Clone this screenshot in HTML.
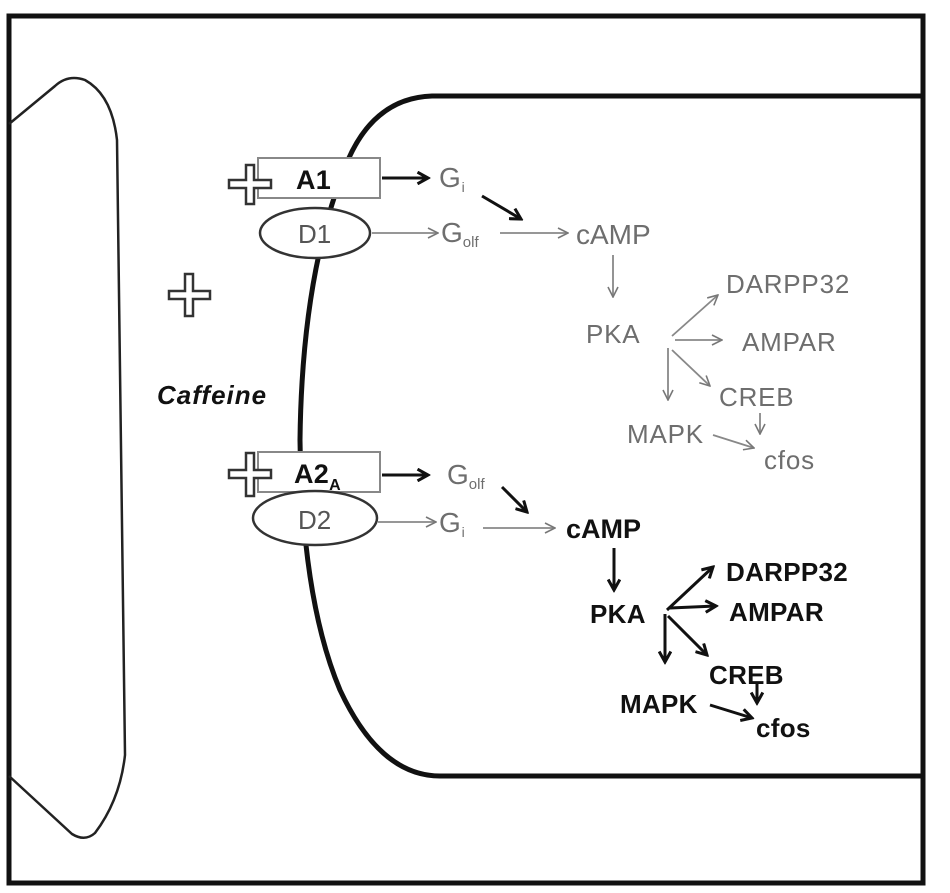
<!DOCTYPE html>
<html><head><meta charset="utf-8"><style>
body{margin:0;background:#fff}
svg{display:block}
text{font-family:"Liberation Sans",sans-serif}
.g{fill:#6e6e6e;font-size:26px;letter-spacing:0.8px}
.b{fill:#111;font-size:26px;font-weight:bold;letter-spacing:0.3px}
</style></head><body>
<svg width="950" height="893" viewBox="0 0 950 893" xmlns="http://www.w3.org/2000/svg">
<defs>
<marker id="ag" viewBox="0 0 12 12" refX="11" refY="6" markerWidth="12" markerHeight="12" markerUnits="userSpaceOnUse" orient="auto"><path d="M1,1 L11,6 L1,11" fill="none" stroke="#777" stroke-width="1.6"/></marker>
<marker id="ab" viewBox="0 0 12 12" refX="10" refY="6" markerWidth="14" markerHeight="14" markerUnits="userSpaceOnUse" orient="auto"><path d="M1,1 L10,6 L1,11" fill="none" stroke="#111" stroke-width="2.6"/></marker>
</defs>
<!-- frame -->
<rect x="9" y="16" width="914" height="867" fill="none" stroke="#111" stroke-width="5"/>
<!-- left cell -->
<path d="M9,124 L55,86 Q68,74 85,80 Q112,95 117,140 L125,755 Q120,800 95,833 Q85,842 72,834 L9,776" fill="none" stroke="#222" stroke-width="2.5"/>
<!-- right cell -->
<path d="M922,96 L432,96 Q375,98 348,160 Q302,270 300,440 Q302,600 340,690 Q380,776 440,776 L922,776" fill="none" stroke="#111" stroke-width="5"/>
<!-- receptors -->
<rect x="258" y="158" width="122" height="40" fill="#fff" stroke="#888" stroke-width="2"/>
<text x="296" y="189" class="b" style="font-size:27px">A1</text>
<ellipse cx="315" cy="233" rx="55" ry="25" fill="#fff" stroke="#333" stroke-width="2.5"/>
<text x="298" y="243" class="g" style="fill:#555;letter-spacing:0">D1</text>
<rect x="258" y="452" width="122" height="40" fill="#fff" stroke="#888" stroke-width="2"/>
<text x="294" y="483" class="b" style="font-size:27px">A2<tspan font-size="16" dy="7">A</tspan></text>
<ellipse cx="315" cy="518" rx="62" ry="27" fill="#fff" stroke="#333" stroke-width="2.5"/>
<text x="298" y="529" class="g" style="fill:#555;letter-spacing:0">D2</text>
<!-- plus signs -->
<g fill="#fff" stroke="#333" stroke-width="2.5">
<path d="M229,180h17v-15h8v15h17v8h-17v16h-8v-16h-17z"/>
<path d="M169,291h16v-17h8v17h17v8h-17v17h-8v-17h-16z"/>
<path d="M229,470h17v-17h8v17h17v8h-17v18h-8v-18h-17z"/>
</g>
<text x="157" y="404" class="b" style="font-style:italic;font-size:26px;letter-spacing:1px">Caffeine</text>
<!-- top pathway -->
<line x1="382" y1="178" x2="428" y2="178" stroke="#111" stroke-width="3" marker-end="url(#ab)"/>
<text x="439" y="187" class="g" style="font-size:28px">G<tspan font-size="14" dy="5">i</tspan></text>
<line x1="482" y1="196" x2="521" y2="219" stroke="#111" stroke-width="3" marker-end="url(#ab)"/>
<line x1="372" y1="233" x2="438" y2="233" stroke="#888" stroke-width="1.8" marker-end="url(#ag)"/>
<text x="441" y="242" class="g" style="font-size:28px;letter-spacing:0">G<tspan font-size="15" dy="5">olf</tspan></text>
<line x1="500" y1="233" x2="568" y2="233" stroke="#888" stroke-width="1.8" marker-end="url(#ag)"/>
<text x="576" y="244" class="g" style="font-size:28px;letter-spacing:0">cAMP</text>
<line x1="613" y1="255" x2="613" y2="297" stroke="#888" stroke-width="1.8" marker-end="url(#ag)"/>
<text x="586" y="343" class="g">PKA</text>
<line x1="672" y1="336" x2="718" y2="295" stroke="#888" stroke-width="1.8" marker-end="url(#ag)"/>
<line x1="675" y1="340" x2="722" y2="340" stroke="#888" stroke-width="1.8" marker-end="url(#ag)"/>
<line x1="668" y1="348" x2="668" y2="400" stroke="#888" stroke-width="1.8" marker-end="url(#ag)"/>
<line x1="672" y1="350" x2="710" y2="386" stroke="#888" stroke-width="1.8" marker-end="url(#ag)"/>
<text x="726" y="293" class="g">DARPP32</text>
<text x="742" y="351" class="g">AMPAR</text>
<text x="719" y="406" class="g">CREB</text>
<line x1="760" y1="413" x2="760" y2="434" stroke="#888" stroke-width="1.8" marker-end="url(#ag)"/>
<text x="627" y="443" class="g">MAPK</text>
<line x1="713" y1="435" x2="754" y2="448" stroke="#888" stroke-width="1.8" marker-end="url(#ag)"/>
<text x="764" y="469" class="g">cfos</text>
<!-- bottom pathway -->
<line x1="382" y1="475" x2="428" y2="475" stroke="#111" stroke-width="3" marker-end="url(#ab)"/>
<text x="447" y="484" class="g" style="font-size:28px;letter-spacing:0">G<tspan font-size="15" dy="5">olf</tspan></text>
<line x1="502" y1="487" x2="527" y2="512" stroke="#111" stroke-width="3" marker-end="url(#ab)"/>
<line x1="378" y1="522" x2="436" y2="522" stroke="#888" stroke-width="1.8" marker-end="url(#ag)"/>
<text x="439" y="532" class="g" style="font-size:28px">G<tspan font-size="14" dy="5">i</tspan></text>
<line x1="483" y1="528" x2="555" y2="528" stroke="#888" stroke-width="1.8" marker-end="url(#ag)"/>
<text x="566" y="538" class="b" style="font-size:27px;letter-spacing:0">cAMP</text>
<line x1="614" y1="548" x2="614" y2="590" stroke="#111" stroke-width="3" marker-end="url(#ab)"/>
<text x="590" y="623" class="b">PKA</text>
<line x1="667" y1="610" x2="713" y2="567" stroke="#111" stroke-width="3" marker-end="url(#ab)"/>
<line x1="670" y1="608" x2="716" y2="606" stroke="#111" stroke-width="3" marker-end="url(#ab)"/>
<line x1="665" y1="614" x2="665" y2="662" stroke="#111" stroke-width="3" marker-end="url(#ab)"/>
<line x1="668" y1="616" x2="707" y2="655" stroke="#111" stroke-width="3" marker-end="url(#ab)"/>
<text x="726" y="581" class="b">DARPP32</text>
<text x="729" y="621" class="b">AMPAR</text>
<text x="709" y="684" class="b">CREB</text>
<line x1="757" y1="682" x2="757" y2="703" stroke="#111" stroke-width="3" marker-end="url(#ab)"/>
<text x="620" y="713" class="b">MAPK</text>
<line x1="710" y1="705" x2="752" y2="718" stroke="#111" stroke-width="3" marker-end="url(#ab)"/>
<text x="756" y="737" class="b">cfos</text>
</svg>
</body></html>
